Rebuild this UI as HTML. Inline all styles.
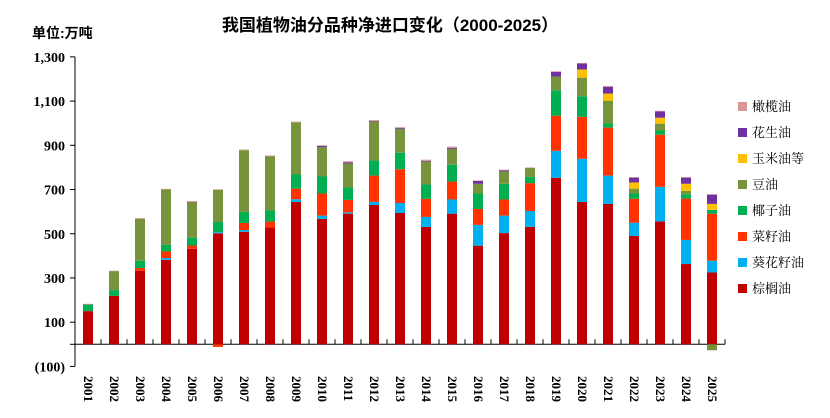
<!DOCTYPE html>
<html><head><meta charset="utf-8"><style>
body{margin:0;background:#fff;}
svg text{font-family:"Liberation Serif","Noto Serif CJK SC",serif;}
svg text.sans{font-family:"Liberation Sans","Noto Sans CJK SC",sans-serif;}
</style></head><body>
<svg id="chart" width="830" height="413" xmlns="http://www.w3.org/2000/svg">
<rect width="830" height="413" fill="#fff"/>
<text class="sans" x="390" y="31" text-anchor="middle" font-size="17" font-weight="bold">我国植物油分品种净进口变化（2000-2025）</text>
<text class="sans" x="32" y="38" font-size="14" font-weight="bold">单位:万吨</text>
<g id="axes"></g><g id="bars"></g><g id="legend"></g>
</svg>
<script>
const years=['2001','2002','2003','2004','2005','2006','2007','2008','2009','2010','2011','2012','2013','2014','2015','2016','2017','2018','2019','2020','2021','2022','2023','2024','2025'];
const palm=[150,219,333,382,432,502,509,528,644,567,591,630,594,531,591,446,503,531,753,644,635,490,556,363,325];
const sunflower=[0,0,0,8,0,5,8,0,12,15,6,14,45,45,64,94,79,72,122,195,128,60,156,109,53];
const rapeseed=[0,0,12,30,15,-12,32,27,48,100,56,119,153,82,81,72,73,126,159,190,217,108,236,187,213];
const coconut=[30,26,33,30,35,46,50,50,64,77,56,68,74,65,76,70,71,28,115,93,19,24,19,20,17];
const soy=[0,86,190,250,163,145,279,246,236,133,109,177,109,104,72,44,56,41,62,84,103,22,31,15,-27];
const corn=[0,0,0,0,0,0,0,0,0,0,0,0,0,0,0,0,0,0,0,37,32,28,27,32,27];
const peanut=[0,0,0,0,0,0,0,0,0,5,5,3,4,3,5,13,5,0,21,27,30,22,29,28,42];
const olive=[3,2,3,3,3,3,3,3,3,3,5,3,3,5,5,2,3,2,3,2,5,2,2,2,2];
const yTicks=[1300,1100,900,700,500,300,100,0,-100];
const yTickLabels=['1,300','1,100','900','700','500','300','100','','(100)'];
const seriesNames=['棕榈油','葵花籽油','菜籽油','椰子油','豆油','玉米油等','花生油','橄榄油'];
const series=[palm,sunflower,rapeseed,coconut,soy,corn,peanut,olive];
const colors=['#C00000','#00B0F0','#FF3300','#00B050','#77933C','#FFC000','#7030A0','#D99694'];
const NS='http://www.w3.org/2000/svg';
const y0=344.3, k=0.2211, x0=75, step=26, bw=10;
const Y=v=>y0-v*k;
const X=i=>x0+13+i*step;
function mk(t,a,p){const e=document.createElementNS(NS,t);for(const n in a)e.setAttribute(n,a[n]);p.appendChild(e);return e;}
const ax=document.getElementById('axes');
const yl=mk('line',{x1:x0,y1:Y(1300),x2:x0,y2:Y(-100),stroke:'#000','stroke-width':1},ax);


yTicks.forEach((v,i)=>{
 const tl=mk('line',{x1:x0-5,y1:Y(v),x2:x0,y2:Y(v),stroke:'#000'},ax);
 
 
 const t=mk('text',{x:x0-10,y:Y(v)+5,'text-anchor':'end','font-size':14,'font-weight':'bold'},ax);
 t.textContent=yTickLabels[i];
 
 
});
const xl=mk('line',{x1:x0,y1:y0,x2:x0+years.length*step,y2:y0,stroke:'#000'},ax);


for(let i=1;i<=years.length;i++){
 const tl=mk('line',{x1:x0+i*step,y1:y0-5,x2:x0+i*step,y2:y0,stroke:'#000'},ax);
 
 
}
years.forEach((yr,i)=>{
 const t=mk('text',{x:0,y:0,'font-size':13,'font-weight':'bold',transform:`translate(${X(i)-4},376) rotate(90)`},ax);
 t.textContent=yr;
 
 
});
const bg=document.getElementById('bars');
years.forEach((yr,i)=>{
 let pos=0,neg=0;
 series.forEach((s,j)=>{
  const v=s[i]; if(!v) return;
  let a,b; if(v>0){a=pos;b=pos+v;pos=b;}else{a=neg+v;b=neg;neg=a;}
  const r=mk('rect',{x:X(i)-bw/2,y:Y(b),width:bw,height:Math.max(0.5,Y(a)-Y(b)),fill:colors[j]},bg);
  
  
 });
});
const lg=document.getElementById('legend');
for(let j=seriesNames.length-1;j>=0;j--){
 const idx=seriesNames.length-1-j, yy=107+idx*26;
 const r=mk('rect',{x:738,y:yy-5,width:9,height:9,fill:colors[j]},lg);
 
 
 const t=mk('text',{x:752,y:yy+4,'font-size':13},lg);
 t.textContent=seriesNames[j];
 
 
}
</script>
</body></html>
